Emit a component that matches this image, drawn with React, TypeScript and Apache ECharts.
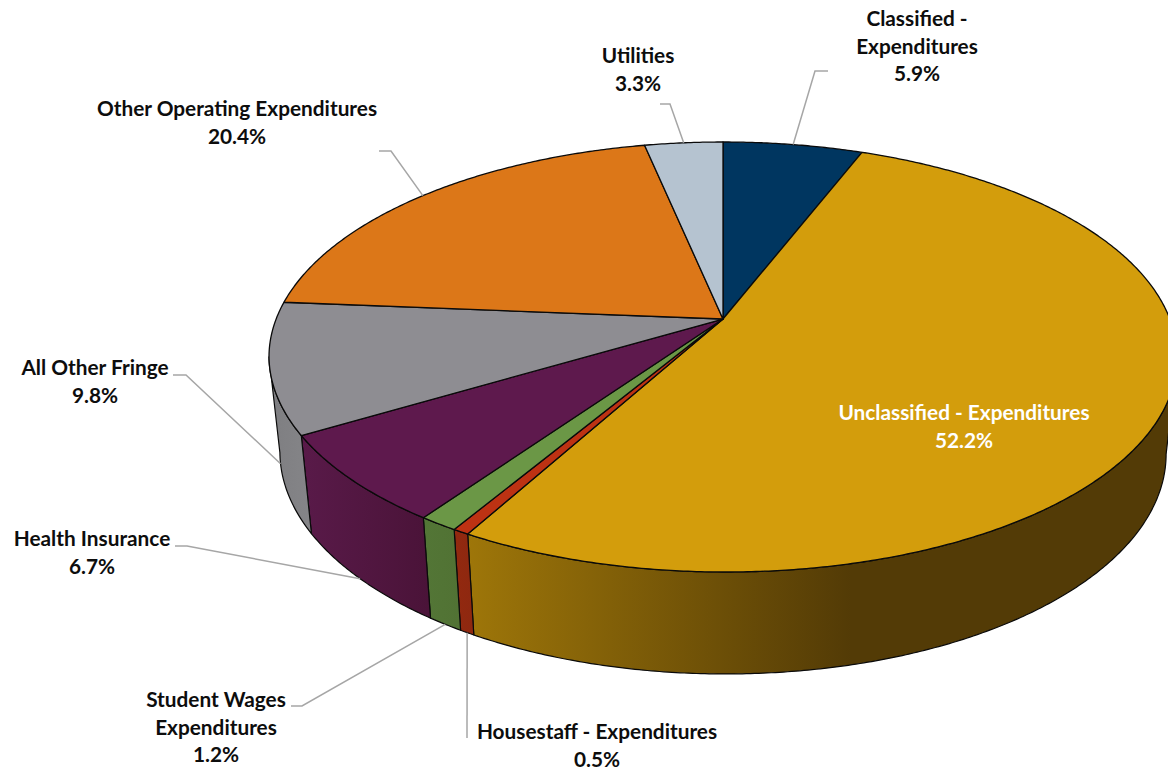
import React, { useEffect, useRef } from "react";
import * as echarts from "echarts";

const names = [
  "Classified - Expenditures",
  "Unclassified - Expenditures",
  "Housestaff - Expenditures",
  "Student Wages Expenditures",
  "Health Insurance",
  "All Other Fringe",
  "Other Operating Expenditures",
  "Utilities",
];
const values = [5.9, 52.2, 0.5, 1.2, 6.7, 9.8, 20.4, 3.3];
const labelLines = [
  ["Classified -", "Expenditures"],
  ["Unclassified - Expenditures"],
  ["Housestaff - Expenditures"],
  ["Student Wages", "Expenditures"],
  ["Health Insurance"],
  ["All Other Fringe"],
  ["Other Operating Expenditures"],
  ["Utilities"],
];

const topColors = ["#003660", "#D39D0C", "#BD3213", "#6B9746", "#5E194D", "#8E8D92", "#DC7718", "#B5C3D0"];
const wallStart = ["#002847", "#9E7609", "#93290F", "#537636", "#591A49", "#7E7E81", "#A85A12", "#8A96A0"];
const wallEnd = ["#002847", "#533B06", "#8E2810", "#517234", "#4A1338", "#858588", "#A85A12", "#8A96A0"];

// geometry of the projected disc
const CX = 723, CY = 357, RX = 454, RY = 215, K = -0.1767, SHEAR = 0.012;
const BASE_SCALE_X = 0.976, BASE_DROP = 95.8, BASE_DROP_SLOPE = 0.0286;
const APEX = { x: CX, y: CY + RY * K };

// label layout: text centre, first-line centre, leader elbow and end
const labelLayout: any[] = [
  { x: 917, y: 19, elbow: [815, 71], end: [828, 71] },
  { x: 964, y: 413, color: "#FFFFFF" },
  { x: 597, y: 732, end: [467, 738] },
  { x: 216, y: 700, elbow: [302, 706], end: [291, 706] },
  { x: 92, y: 539, elbow: [187, 546], end: [175, 546] },
  { x: 95, y: 368, elbow: [186, 375], end: [173, 375] },
  { x: 237, y: 109, elbow: [391, 151], end: [379, 151] },
  { x: 638, y: 56, elbow: [670, 104], end: [660, 104] },
];

const total = values.reduce((a, b) => a + b, 0);
const starts: number[] = [];
values.reduce((acc, v, i) => {
  starts[i] = acc;
  return acc + v;
}, 0);

function topPoint(pct: number): number[] {
  const t = (pct / total) * Math.PI * 2;
  const u = Math.sin(t), v = -Math.cos(t);
  const d = 1 + K * v;
  const px = (u * Math.sqrt(1 - K * K)) / d;
  const py = (v + K) / d;
  const y = CY + RY * py;
  return [CX + RX * px + SHEAR * Math.max(0, y - CY), y];
}
function basePoint(pct: number): number[] {
  const [x, y] = topPoint(pct);
  return [CX + (x - CX) * BASE_SCALE_X, y + BASE_DROP + BASE_DROP_SLOPE * (y - CY)];
}
function arc(fn: (p: number) => number[], from: number, to: number): number[][] {
  const n = Math.max(2, Math.ceil((to - from) * 8));
  const pts: number[][] = [];
  for (let i = 0; i <= n; i++) pts.push(fn(from + ((to - from) * i) / n));
  return pts;
}
// part of the circumference whose outer wall faces the viewer: rightmost to leftmost point
let frontFrom = 0, frontTo = 0;
for (let p = 0; p < total; p += total / 4000) {
  if (topPoint(p)[0] > topPoint(frontFrom)[0]) frontFrom = p;
  if (topPoint(p)[0] < topPoint(frontTo)[0]) frontTo = p;
}

const OUTLINE = "#0A0A0A";
const FONT = '700 20.8px Lato, "Noto Sans", sans-serif';

export default function App() {
  const ref = useRef<HTMLDivElement>(null);
  useEffect(() => {
    const chart = echarts.init(ref.current!, undefined, { renderer: "svg" });
    const data = values.map((v) => [v]);
    chart.setOption({
      animation: false,
      backgroundColor: "#FFFFFF",
      series: [
        {
          type: "custom",
          coordinateSystem: "none",
          silent: true,
          data,
          renderItem: (params: any, api: any) => {
            const i = params.dataIndex;
            const v = api.value(0);
            const a = Math.max(starts[i], frontFrom);
            const b = Math.min(starts[i] + v, frontTo);
            if (b <= a) return { type: "group", children: [] };
            const points = [...arc(topPoint, a, b), ...arc(basePoint, a, b).reverse()];
            return {
              type: "polygon",
              shape: { points },
              style: {
                fill: new echarts.graphic.LinearGradient(0, 0, 1, 0, [
                  { offset: 0, color: wallStart[i] },
                  { offset: i === 1 ? 0.54 : 1, color: wallEnd[i] },
                  { offset: 1, color: wallEnd[i] },
                ]),
                stroke: OUTLINE,
                lineWidth: 1.2,
                lineJoin: "round",
              },
            };
          },
        },
        {
          type: "custom",
          coordinateSystem: "none",
          silent: true,
          data,
          renderItem: (params: any, api: any) => {
            const i = params.dataIndex;
            const v = api.value(0);
            const a = starts[i], b = a + v;
            const points = [[APEX.x, APEX.y], ...arc(topPoint, a, b)];
            return {
              type: "polygon",
              shape: { points },
              style: { fill: topColors[i], stroke: OUTLINE, lineWidth: 1.3, lineJoin: "round" },
            };
          },
        },
        {
          type: "custom",
          coordinateSystem: "none",
          silent: true,
          data,
          renderItem: (params: any, api: any) => {
            const i = params.dataIndex;
            const v = api.value(0);
            const mid = starts[i] + v / 2;
            const layout = labelLayout[i];
            const children: any[] = [];
            if (layout.end) {
              const t = (mid / total) * Math.PI * 2;
              const anchor = -Math.cos(t) > 0 ? basePoint(mid) : topPoint(mid);
              const pts = layout.elbow ? [anchor, layout.elbow, layout.end] : [anchor, layout.end];
              children.push({
                type: "polyline",
                shape: { points: pts },
                style: { fill: "none", stroke: "#A6A6A6", lineWidth: 1.5 },
              });
            }
            const lines = labelLines[i];
            const text = [...lines, v.toFixed(1) + "%"].join("\n");
            const lh = 27.5;
            children.push({
              type: "text",
              style: {
                x: layout.x,
                y: layout.y - lh / 2 - 1.5,
                text,
                textAlign: "center",
                textVerticalAlign: "top",
                lineHeight: lh,
                font: FONT,
                fill: layout.color || "#0D0D0D",
              },
            });
            return { type: "group", children };
          },
        },
      ],
    });
    return () => chart.dispose();
  }, []);
  return (
    <div
      ref={ref}
      aria-label={names.join(", ")}
      style={{ position: "fixed", left: 0, top: 0, width: 1168, height: 773 }}
    />
  );
}
